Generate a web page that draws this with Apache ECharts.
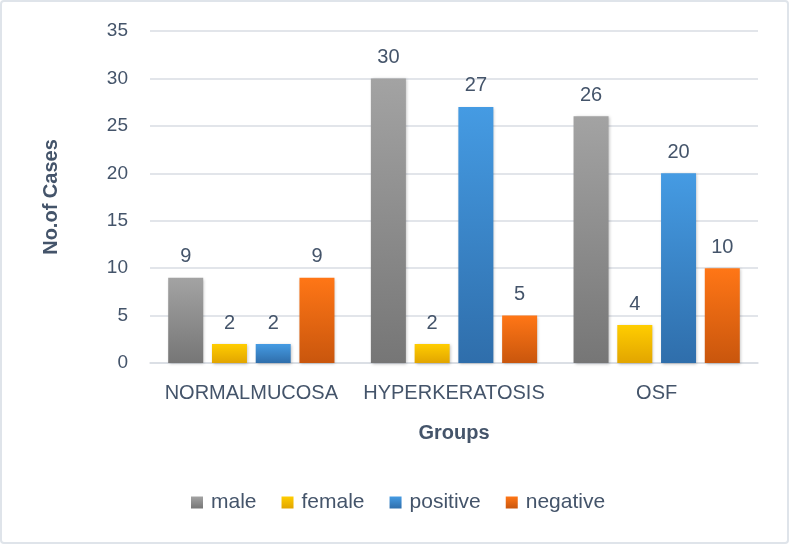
<!DOCTYPE html>
<html><head><meta charset="utf-8">
<script src="https://cdn.jsdelivr.net/npm/echarts@6/dist/echarts.min.js"></script>
<style>
html,body{margin:0;padding:0;background:#fff;}
#frame{position:absolute;left:0;top:0;width:785px;height:540px;border:2px solid #dfe4ea;border-radius:4px;background:#fff;}
#c{position:absolute;left:-2px;top:-2px;width:789px;height:544px;}
</style></head>
<body>
<div id="frame"><div id="c"></div></div>
<script>
var categories = ['NORMALMUCOSA', 'HYPERKERATOSIS', 'OSF'];
var male = [9, 30, 26];
var female = [2, 2, 4];
var positive = [2, 27, 20];
var negative = [9, 5, 10];
var yTicks = [0, 5, 10, 15, 20, 25, 30, 35];

var FONT = 'Liberation Sans';
var TXT = '#44546a';
function grad(top, bottom) {
  return new echarts.graphic.LinearGradient(0, 0, 0, 1, [
    {offset: 0, color: top}, {offset: 1, color: bottom}
  ]);
}
function ser(name, data, top, bottom) {
  return {
    name: name, type: 'bar', data: data,
    barWidth: 35, barGap: '25%',
    itemStyle: {color: grad(top, bottom), shadowBlur: 3, shadowColor: 'rgba(0,0,0,0.25)', shadowOffsetX: 1, shadowOffsetY: 1},
    label: {show: true, position: 'top', distance: 11, color: TXT, fontFamily: FONT, fontSize: 20}
  };
}
var chart = echarts.init(document.getElementById('c'), null, {renderer: 'canvas'});
chart.setOption({
  animation: false,
  grid: {left: 150, right: 31, top: 31, bottom: 181, containLabel: false},
  legend: {
    bottom: 26, left: 186, itemWidth: 12, itemHeight: 12, itemGap: 25,
    icon: 'rect',
    textStyle: {color: TXT, fontFamily: FONT, fontSize: 21, padding: [0, 0, 0, 3]},
    data: ['male', 'female', 'positive', 'negative']
  },
  xAxis: {
    type: 'category', data: categories,
    name: 'Groups', nameLocation: 'middle', nameGap: 60,
    nameTextStyle: {color: TXT, fontFamily: FONT, fontSize: 20, fontWeight: 'bold'},
    axisLine: {lineStyle: {color: '#d9dde3', width: 1.5}},
    axisTick: {show: false},
    axisLabel: {color: TXT, fontFamily: FONT, fontSize: 20, margin: 20, interval: 0, hideOverlap: false}
  },
  yAxis: {
    type: 'value', min: yTicks[0], max: yTicks[yTicks.length - 1], interval: 5,
    name: 'No.of Cases', nameLocation: 'middle', nameGap: 89,
    nameTextStyle: {color: TXT, fontFamily: FONT, fontSize: 20, fontWeight: 'bold'},
    axisLine: {show: false}, axisTick: {show: false},
    axisLabel: {color: TXT, fontFamily: FONT, fontSize: 19, margin: 22},
    splitLine: {lineStyle: {color: '#d9dde3', width: 1.5}}
  },
  series: [
    ser('male', male, '#a3a3a3', '#767676'),
    ser('female', female, '#ffcd00', '#e2a500'),
    ser('positive', positive, '#459be3', '#2f6eab'),
    ser('negative', negative, '#ff7616', '#c9560d')
  ]
});
</script>
</body></html>
